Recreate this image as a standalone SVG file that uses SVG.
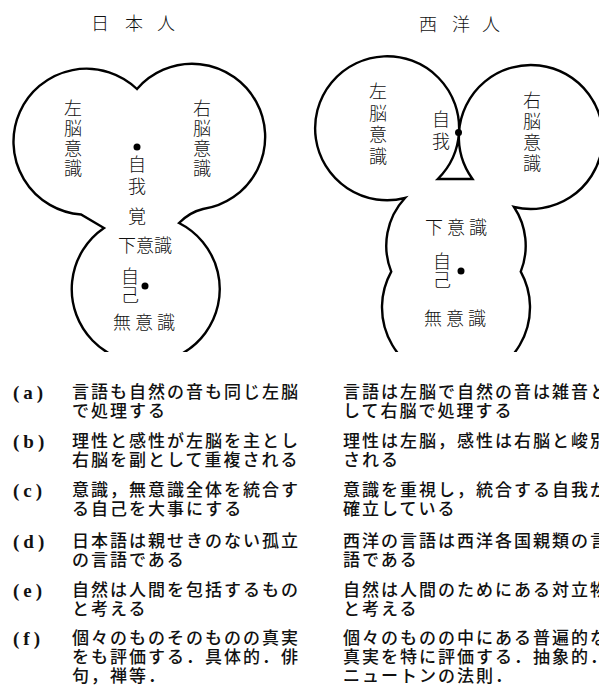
<svg xmlns="http://www.w3.org/2000/svg" width="599" height="693" viewBox="0 0 599 693">
<style>
  .outline{fill:none;stroke:#000;stroke-width:2.4;stroke-linejoin:miter}
  .lbl{font-family:"Noto Sans CJK JP","Noto Sans CJK SC",sans-serif;font-size:18px;font-weight:300;fill:#111;text-anchor:middle}
  .ttl{font-family:"Noto Sans CJK JP","Noto Sans CJK SC",sans-serif;font-size:18px;font-weight:300;fill:#111;text-anchor:middle}
  .row{font-family:"Noto Sans CJK JP","Noto Sans CJK SC",sans-serif;font-size:17px;font-weight:500;fill:#111;letter-spacing:2px}
  .key{font-family:"Liberation Serif",serif;font-size:19px;font-weight:bold;fill:#111;letter-spacing:4px}
  .dot{fill:#000}
</style>
<defs>
  <clipPath id="cut"><rect x="0" y="0" width="599" height="352"/></clipPath>
</defs>

<g id="title-japanese" class="ttl">
  <text x="100" y="30">日</text><text x="134" y="30">本</text><text x="166" y="30">人</text>
</g>
<g id="title-western" class="ttl">
  <text x="428" y="31">西</text><text x="461" y="31">洋</text><text x="491" y="31">人</text>
</g>

<g id="japanese-diagram" clip-path="url(#cut)">
  <path class="outline" d="M137,89 A73,73 0 1 1 203,209 Q190,212 179,223 A74,74 0 1 1 104,228 L81,214.5 A73,73 0 1 1 137,89 Z"/>
  <g id="jp-left" class="lbl"><text x="73" y="115">左</text><text x="73" y="135">脳</text><text x="73" y="155">意</text><text x="73" y="175">識</text></g>
  <g id="jp-right" class="lbl"><text x="202" y="115">右</text><text x="202" y="135">脳</text><text x="202" y="155">意</text><text x="202" y="175">識</text></g>
  <g id="jp-ego"><circle class="dot" cx="137" cy="147" r="3.5"/><text class="lbl" x="137" y="171">自</text><text class="lbl" x="137" y="193">我</text></g>
  <g id="jp-kaku"><text class="lbl" x="137" y="223">覚</text></g>
  <g id="jp-sub"><text class="lbl" x="145" y="252">下意識</text></g>
  <g id="jp-self"><text class="lbl" x="130" y="283">自</text><text class="lbl" x="130" y="302">己</text><circle class="dot" cx="145" cy="286" r="3.5"/></g>
  <g id="jp-uncon"><text class="lbl" x="146" y="329" style="letter-spacing:4px">無意識</text></g>
</g>

<g id="western-diagram" clip-path="url(#cut)">
  <path class="outline" d="M405,198 A72,72 0 1 1 459,132.5 A72,72 0 1 1 514,207 A70,70 0 0 1 520.75,271.6 A74,74 0 1 1 391.25,271.6 A70,70 0 0 1 405,198 Z"/>
  <path class="outline" d="M459,132.5 A72,72 0 0 1 437.8,179 L472.5,179 A72,72 0 0 1 459,132.5 Z"/>
  <g id="we-left" class="lbl"><text x="378" y="98">左</text><text x="378" y="119.5">脳</text><text x="378" y="141">意</text><text x="378" y="162.5">識</text></g>
  <g id="we-right" class="lbl"><text x="532" y="107">右</text><text x="532" y="128">脳</text><text x="532" y="149">意</text><text x="532" y="170">識</text></g>
  <g id="we-ego"><text class="lbl" x="441" y="126">自</text><text class="lbl" x="441" y="148">我</text><circle class="dot" cx="458.5" cy="132.5" r="3.5"/></g>
  <g id="we-sub"><text class="lbl" x="458" y="234" style="letter-spacing:4px">下意識</text></g>
  <g id="we-self"><text class="lbl" x="442" y="268">自</text><text class="lbl" x="442" y="287">己</text><circle class="dot" cx="461" cy="271" r="3.5"/></g>
  <g id="we-uncon"><text class="lbl" x="457" y="325" style="letter-spacing:4px">無意識</text></g>
</g>

<g id="table">
  <g id="row-a">
    <text class="key" x="13" y="399">(a)</text>
    <text class="row" x="72" y="398">言語も自然の音も同じ左脳</text>
    <text class="row" x="72" y="417">で処理する</text>
    <text class="row" x="343" y="398">言語は左脳で自然の音は雑音と</text>
    <text class="row" x="343" y="417">して右脳で処理する</text>
  </g>
  <g id="row-b">
    <text class="key" x="13" y="448">(b)</text>
    <text class="row" x="72" y="447">理性と感性が左脳を主とし</text>
    <text class="row" x="72" y="466">右脳を副として重複される</text>
    <text class="row" x="343" y="447">理性は左脳，感性は右脳と峻別</text>
    <text class="row" x="343" y="466">される</text>
  </g>
  <g id="row-c">
    <text class="key" x="13" y="497">(c)</text>
    <text class="row" x="72" y="496">意識，無意識全体を統合す</text>
    <text class="row" x="72" y="515">る自己を大事にする</text>
    <text class="row" x="343" y="496">意識を重視し，統合する自我が</text>
    <text class="row" x="343" y="515">確立している</text>
  </g>
  <g id="row-d">
    <text class="key" x="13" y="548">(d)</text>
    <text class="row" x="72" y="547">日本語は親せきのない孤立</text>
    <text class="row" x="72" y="566">の言語である</text>
    <text class="row" x="343" y="547">西洋の言語は西洋各国親類の言</text>
    <text class="row" x="343" y="566">語である</text>
  </g>
  <g id="row-e">
    <text class="key" x="13" y="597">(e)</text>
    <text class="row" x="72" y="596">自然は人間を包括するもの</text>
    <text class="row" x="72" y="615">と考える</text>
    <text class="row" x="343" y="596">自然は人間のためにある対立物</text>
    <text class="row" x="343" y="615">と考える</text>
  </g>
  <g id="row-f">
    <text class="key" x="13" y="645">(f)</text>
    <text class="row" x="72" y="644">個々のものそのものの真実</text>
    <text class="row" x="72" y="663">をも評価する．具体的．俳</text>
    <text class="row" x="72" y="682">句，禅等．</text>
    <text class="row" x="343" y="644">個々のものの中にある普遍的な</text>
    <text class="row" x="343" y="663">真実を特に評価する．抽象的．</text>
    <text class="row" x="343" y="682">ニュートンの法則．</text>
  </g>
</g>
</svg>
